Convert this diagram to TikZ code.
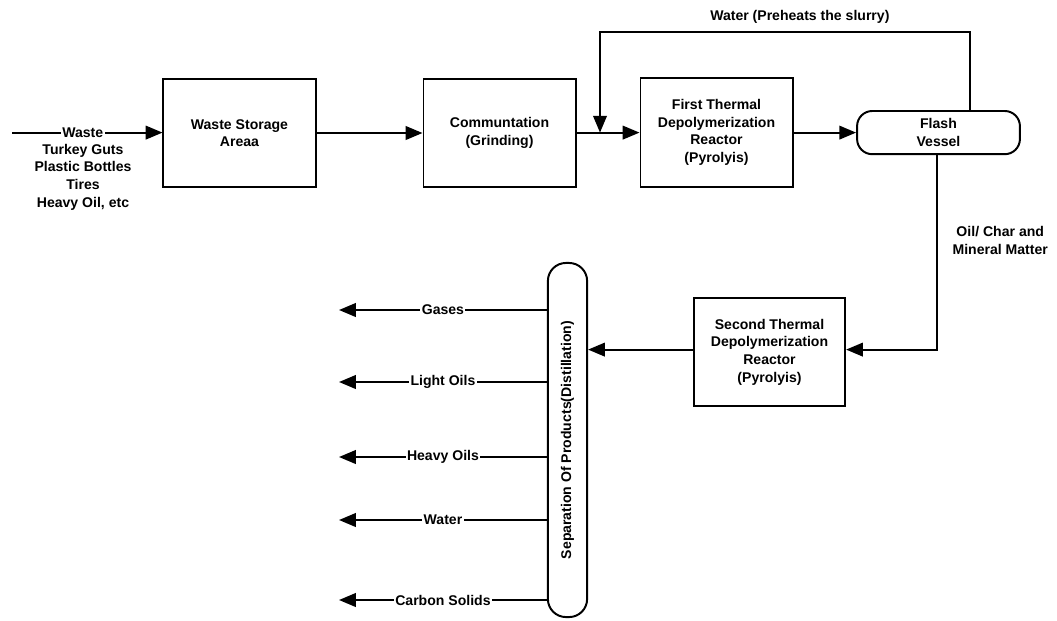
\documentclass[tikz,border=0pt]{standalone}
\usepackage{fontspec}
\setmainfont{Liberation Sans}
\usetikzlibrary{arrows.meta,positioning,calc}
\tikzset{
  font=\fontsize{10}{12.5}\selectfont\bfseries,
  base/.style={draw,line width=1.4pt,align=center,inner sep=3pt},
  proc/.style={base,minimum width=3.8cm,minimum height=2.72cm},
  vessel/.style={base,rounded corners=0.38cm,minimum width=4.07cm,minimum height=1.08cm},
  column/.style={base,rounded corners=0.45cm,rotate=90,minimum width=8.85cm,minimum height=0.98cm},
  flow/.style={-{Triangle[length=0.42cm,width=0.34cm]},line width=1.4pt},
  lbl/.style={align=center},
  tag/.style={fill=white,inner sep=1pt},
}

\begin{document}
\begin{tikzpicture}[x=0.025cm,y=-0.025cm]
\useasboundingbox (0,0) rectangle (1057,620);

% ============ TOP LINE ============
\node[proc] (storage) at (239.5,133) {Waste Storage\\ Areaa};
\node[proc] (grind) at (499.5,133) {Communtation\\ (Grinding)};
\node[proc] (reactor1) at (716.5,132.5) {First Thermal\\ Depolymerization\\ Reactor\\ (Pyrolyis)};
\node[vessel] (flash) at (938.5,132.6) {Flash\\ Vessel};

% ============ SECOND STAGE ============
\node[proc,minimum width=3.78cm] (reactor2) at (769.5,352) {Second Thermal\\ Depolymerization\\ Reactor\\ (Pyrolyis)};
\node[column] (sep) at (567.5,440) {Separation Of Products(Distillation)};

% feed list
\coordinate (feed) at (12,132.6);
\coordinate (mix) at (600,132.6);
\node[lbl] (wastes) at (83,177) {Turkey Guts\\ Plastic Bottles\\ Tires\\ Heavy Oil, etc};

% ---------- edges: main line ----------
\draw[flow] (feed) -- node[tag,pos=0.47]{Waste} (storage.west |- feed);
\draw[flow] (storage) -- (grind);
\draw[flow] (grind.east |- mix) -- (reactor1.west |- mix);
\draw[flow] (reactor1.east |- flash.west) -- (flash.west);

% ---------- edges: water recycle ----------
\draw[flow] ([xshift=0.79cm]flash.north) -- ++(0,-78) -| node[lbl,pos=0.23,above=2pt]{Water (Preheats the slurry)} (mix);

% ---------- edges: flash to second reactor ----------
\draw[flow] ([xshift=-0.04cm]flash.south) |- node[lbl,pos=0.22,right,xshift=0.25cm]{Oil/ Char and\\ Mineral Matter} ([yshift=0.06cm]reactor2.east);
\draw[flow] ([yshift=0.06cm]reactor2.west) -- ([yshift=0.06cm]reactor2.west -| sep.south);

% ---------- products ----------
\foreach \i/\y/\name in {1/310/Gases,2/382/Light Oils,3/457/Heavy Oils,4/520/Water,5/600/Carbon Solids}{
  \coordinate (out\i) at (339,\y);
  \draw[flow] (sep.north |- out\i) -- node[tag]{\name} (out\i);
}

\end{tikzpicture}
\end{document}
